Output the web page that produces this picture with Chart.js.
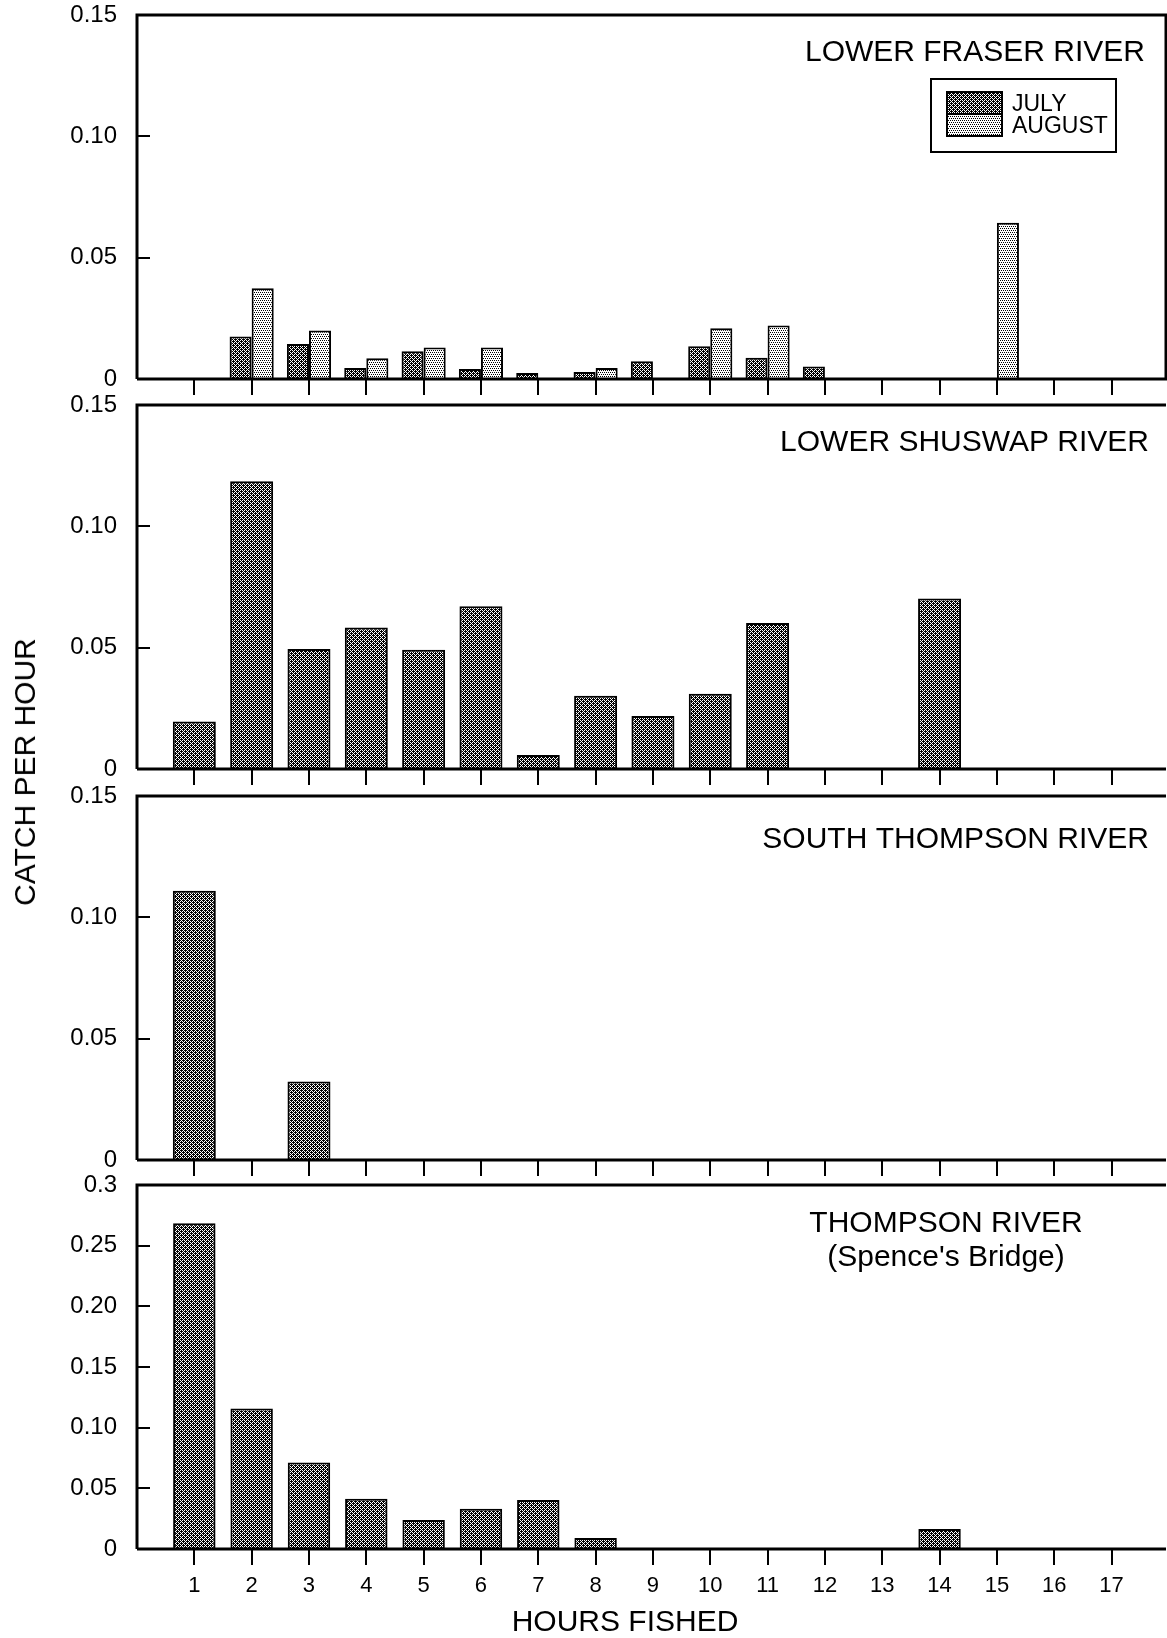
<!DOCTYPE html>
<html>
<head>
<meta charset="utf-8">
<title>Catch per hour by hours fished</title>
<script src="https://cdn.jsdelivr.net/npm/chart.js@4.4.1/dist/chart.umd.min.js"></script>
<style>
    html, body { margin: 0; padding: 0; overflow: hidden; background: #fff; }
    #page { position: relative; width: 1167px; height: 1638px; }
    #page canvas { position: absolute; left: 0; }
    .axisTitle {
        position: absolute;
        font: 30px "Liberation Sans", Arial, Helvetica, sans-serif;
        color: #000;
        white-space: nowrap;
    }
    #yTitle { left: 25px; top: 772px; transform: translate(-50%, -50%) rotate(-90deg); }
    #xTitle { left: 625px; top: 1621px; transform: translate(-50%, -50%); }
</style>
</head>
<body>
<div id="page">
    <canvas id="panel1" width="1167" height="399" style="top:0px"></canvas>
    <canvas id="panel2" width="1167" height="399" style="top:390px"></canvas>
    <canvas id="panel3" width="1167" height="399" style="top:781px"></canvas>
    <canvas id="panel4" width="1167" height="468" style="top:1170px"></canvas>
    <div id="yTitle" class="axisTitle">CATCH PER HOUR</div>
    <div id="xTitle" class="axisTitle">HOURS FISHED</div>
</div>
<script>
// Hours fished (x axis) and their tick labels
var hours = [1, 2, 3, 4, 5, 6, 7, 8, 9, 10, 11, 12, 13, 14, 15, 16, 17];
var hourLabels = ["1", "2", "3", "4", "5", "6", "7", "8", "9", "10", "11", "12", "13", "14", "15", "16", "17"];

// Catch per hour
var fraserJuly = [0, 0.0175, 0.0144, 0.0045, 0.0114, 0.0041, 0.0025, 0.0029, 0.0073, 0.0135, 0.0088, 0.0051, 0, 0, 0, 0, 0];
var fraserAugust = [0, 0.0374, 0.0200, 0.0085, 0.0130, 0.0130, 0, 0.0045, 0, 0.0209, 0.0220, 0, 0, 0, 0.0644, 0, 0];
var shuswapCatch = [0.0196, 0.1186, 0.0494, 0.0583, 0.0491, 0.0671, 0.0058, 0.0302, 0.0218, 0.0310, 0.0602, 0, 0, 0.0703, 0, 0, 0];
var southThompsonCatch = [0.111, 0, 0.0324, 0, 0, 0, 0, 0, 0, 0, 0, 0, 0, 0, 0, 0, 0];
var thompsonCatch = [0.2685, 0.1157, 0.0712, 0.0415, 0.0239, 0.0332, 0.0404, 0.0091, 0, 0, 0, 0, 0, 0.0165, 0, 0, 0];

// Y tick labels
var yTicksSmall = ["0", "0.05", "0.10", "0.15"];
var yTicksLarge = ["0", "0.05", "0.10", "0.15", "0.20", "0.25", "0.3"];

var FONT = '"Liberation Sans", Arial, Helvetica, sans-serif';
Chart.defaults.font.family = FONT;
Chart.defaults.color = "#000";

// Halftone-like fills
function makePattern(dark) {
    var tile = document.createElement("canvas");
    tile.width = 4;
    tile.height = 4;
    var t = tile.getContext("2d");
    if (dark) {
        t.fillStyle = "#000";
        t.fillRect(0, 0, 4, 4);
        t.fillStyle = "#fff";
        [[0, 0], [2, 0], [3, 1], [0, 2], [2, 2], [1, 3]].forEach(function (p) {
            t.fillRect(p[0], p[1], 1, 1);
        });
    } else {
        t.fillStyle = "#fff";
        t.fillRect(0, 0, 4, 4);
        t.fillStyle = "#000";
        [[0, 0], [2, 0], [1, 2], [3, 2]].forEach(function (p) {
            t.fillRect(p[0], p[1], 1, 1);
        });
    }
    return document.createElement("canvas").getContext("2d").createPattern(tile, "repeat");
}
var darkFill = makePattern(true);
var lightFill = makePattern(false);

function toPoints(values) {
    return hours.map(function (h, i) { return { x: h, y: values[i] }; });
}

// Frame, inward y ticks, panel titles and the legend box
var panelPlugin = {
    id: "panelDecor",
    afterDatasetsDraw: function (chart, args, opts) {
        var a = chart.chartArea;
        var ctx = chart.ctx;
        ctx.save();
        ctx.strokeStyle = "#000";
        ctx.lineWidth = 3;
        ctx.beginPath();
        ctx.moveTo(a.left, a.bottom);
        ctx.lineTo(a.left, a.top);
        ctx.lineTo(a.right, a.top);
        if (opts.rightEdge) {
            ctx.lineTo(a.right, a.bottom);
        } else {
            ctx.moveTo(a.right, a.bottom);
        }
        ctx.lineTo(a.left, a.bottom);
        ctx.stroke();

        var yScale = chart.scales.y;
        ctx.lineWidth = 2;
        yScale.ticks.forEach(function (t, i) {
            if (i === 0 || i === yScale.ticks.length - 1) return;
            var py = Math.round(yScale.getPixelForValue(t.value));
            ctx.beginPath();
            ctx.moveTo(a.left, py);
            ctx.lineTo(a.left + 13, py);
            ctx.stroke();
        });

        ctx.fillStyle = "#000";
        ctx.font = "30px " + FONT;
        ctx.textBaseline = "alphabetic";
        ctx.textAlign = opts.titleAlign;
        opts.title.forEach(function (line, i) {
            ctx.fillText(line, opts.titleX, a.top + opts.titleY[i]);
        });

        if (opts.legend) {
            var L = opts.legend;
            ctx.lineWidth = 2;
            ctx.strokeRect(L.x, L.y, L.w, L.h);
            ctx.font = "23px " + FONT;
            ctx.textAlign = "left";
            chart.data.datasets.forEach(function (ds, i) {
                var sy = L.y + 13 + i * 22;
                ctx.fillStyle = ds.backgroundColor;
                ctx.fillRect(L.x + 16, sy, 55, 22);
                ctx.strokeRect(L.x + 16, sy, 55, 22);
                ctx.fillStyle = "#000";
                ctx.fillText(ds.label, L.x + 81, sy + 19);
            });
        }
        ctx.restore();
    }
};

function makePanel(canvasId, datasets, yMax, yLabels, decor, isBottom) {
    var xScale = {
        type: "linear",
        min: 0,
        max: 17.95,
        offset: false,
        ticks: {
            display: isBottom,
            stepSize: 1,
            maxTicksLimit: 30,
            includeBounds: false,
            autoSkip: false,
            maxRotation: 0,
            padding: 8,
            font: { size: 22 },
            color: "#000",
            callback: function (v) { return v >= 1 ? hourLabels[v - 1] : ""; }
        },
        grid: {
            display: true,
            offset: false,
            drawOnChartArea: false,
            drawTicks: true,
            tickLength: 16,
            lineWidth: 2,
            color: function (c) {
                return c.tick && c.tick.value === 0 ? "rgba(0,0,0,0)" : "#000";
            }
        },
        border: { display: false },
        afterFit: function (s) { s.height = isBottom ? 89 : 20; }
    };

    return new Chart(document.getElementById(canvasId), {
        type: "bar",
        data: { datasets: datasets },
        plugins: [panelPlugin],
        options: {
            responsive: false,
            animation: false,
            layout: { padding: { top: 15, right: 1, left: 0, bottom: 0 } },
            scales: {
                x: xScale,
                y: {
                    min: 0,
                    max: yMax,
                    ticks: {
                        stepSize: 0.05,
                        padding: 0,
                        font: { size: 24 },
                        color: "#000",
                        callback: function (v, i) { return yLabels[i]; }
                    },
                    // invisible tick marks keep the labels 20px left of the axis
                    grid: {
                        display: true,
                        drawOnChartArea: false,
                        drawTicks: true,
                        tickLength: 20,
                        color: "rgba(0,0,0,0)"
                    },
                    border: { display: false },
                    afterFit: function (s) { s.width = 137; }
                }
            },
            plugins: {
                legend: { display: false },
                tooltip: { enabled: false },
                panelDecor: decor
            }
        }
    });
}

function barSet(label, values, fill, pct) {
    return {
        label: label,
        data: toPoints(values),
        backgroundColor: fill,
        borderColor: "#000",
        borderWidth: 2,
        categoryPercentage: pct,
        barPercentage: 1.0
    };
}

document.addEventListener("DOMContentLoaded", function () {
    makePanel("panel1", [
        barSet("JULY", fraserJuly, darkFill, 0.77),
        barSet("AUGUST", fraserAugust, lightFill, 0.77)
    ], 0.15, yTicksSmall, {
        rightEdge: true,
        title: ["LOWER FRASER RIVER"],
        titleAlign: "right",
        titleX: 1145,
        titleY: [46],
        legend: { x: 931, y: 79, w: 185, h: 73 }
    }, false);

    makePanel("panel2", [
        barSet("LOWER SHUSWAP RIVER", shuswapCatch, darkFill, 0.75)
    ], 0.15, yTicksSmall, {
        rightEdge: false,
        title: ["LOWER SHUSWAP RIVER"],
        titleAlign: "right",
        titleX: 1149,
        titleY: [46]
    }, false);

    makePanel("panel3", [
        barSet("SOUTH THOMPSON RIVER", southThompsonCatch, darkFill, 0.75)
    ], 0.15, yTicksSmall, {
        rightEdge: false,
        title: ["SOUTH THOMPSON RIVER"],
        titleAlign: "right",
        titleX: 1149,
        titleY: [52]
    }, false);

    makePanel("panel4", [
        barSet("THOMPSON RIVER", thompsonCatch, darkFill, 0.74)
    ], 0.3, yTicksLarge, {
        rightEdge: false,
        title: ["THOMPSON RIVER", "(Spence's Bridge)"],
        titleAlign: "center",
        titleX: 946,
        titleY: [47, 81]
    }, true);
});
</script>
</body>
</html>
